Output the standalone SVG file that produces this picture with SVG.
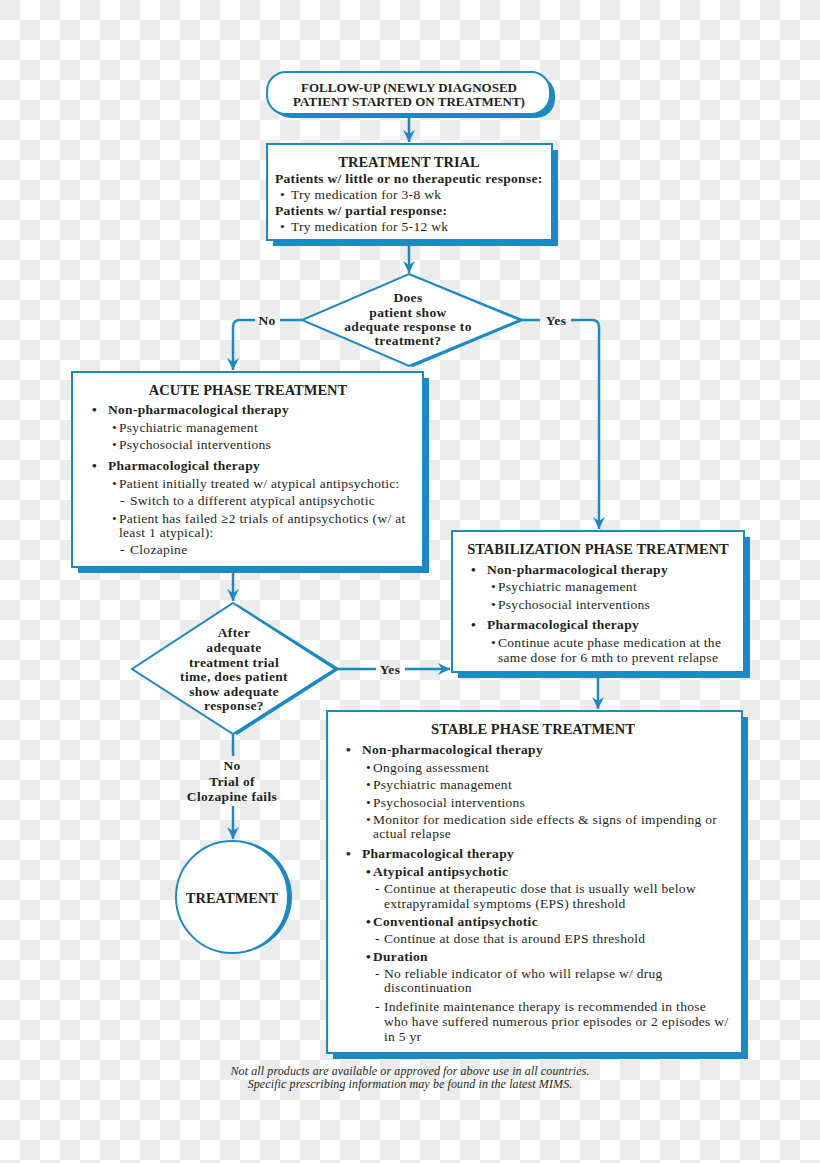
<svg xmlns="http://www.w3.org/2000/svg" width="820" height="1163" viewBox="0 0 820 1163">
<defs>
<pattern id="chk" width="40" height="40" patternUnits="userSpaceOnUse">
<rect width="40" height="40" fill="#ffffff"/>
<rect width="20" height="20" fill="#ececec"/>
<rect x="20" y="20" width="20" height="20" fill="#ececec"/>
</pattern>
<marker id="arr" markerUnits="userSpaceOnUse" markerWidth="14" markerHeight="14" refX="12" refY="7" orient="auto">
<path d="M0,1 L12,7 L0,13 L4,7 z" fill="#1b8ac4"/>
</marker>
<style>
.t{font-family:"Liberation Serif","DejaVu Serif",serif;fill:#231f20}
.h{font-size:14.5px;font-weight:bold;text-anchor:middle}
.p{font-size:13px;font-weight:bold;text-anchor:middle}
.c{font-size:13.5px;font-weight:bold;text-anchor:middle;letter-spacing:0.35px}
.b{font-size:13.5px;font-weight:bold;letter-spacing:0.3px}
.r{font-size:13.5px;letter-spacing:0.3px}
.box{fill:#ffffff;stroke:#1b8ac4;stroke-width:2}
.sh{fill:#1b8ac4}
.ln{fill:none;stroke:#1b8ac4;stroke-width:2.5}
.ft{font-family:"Liberation Serif","DejaVu Serif",serif;font-style:italic;font-size:12px;letter-spacing:0.1px;fill:#231f20;text-anchor:middle}
</style>
</defs>
<rect width="820" height="1163" fill="url(#chk)"/>

<g id="followup">
<rect class="sh" x="272" y="76" width="283" height="42" rx="19"/>
<rect class="box" x="267" y="72" width="283" height="42" rx="19"/>
<text class="t p" x="409" y="92">FOLLOW-UP (NEWLY DIAGNOSED</text>
<text class="t p" x="409" y="106">PATIENT STARTED ON TREATMENT)</text>
</g>

<g id="trial">
<rect class="sh" x="273" y="150" width="285" height="96"/>
<rect class="box" x="267" y="144" width="285" height="96"/>
<text class="t h" x="409" y="167">TREATMENT TRIAL</text>
<text class="t b" x="275" y="183">Patients w/ little or no therapeutic response:</text>
<text class="t r" x="280" y="199">•</text>
<text class="t r" x="291" y="199">Try medication for 3-8 wk</text>
<text class="t b" x="275" y="215">Patients w/ partial response:</text>
<text class="t r" x="280" y="231">•</text>
<text class="t r" x="291" y="231">Try medication for 5-12 wk</text>
</g>

<g id="decision1">
<polygon class="sh" points="413,275 525,320 413,367 305,320"/>
<polygon class="box" points="409,274 520,320 409,366 302,320"/>
<text class="t c" x="408" y="302">Does</text>
<text class="t c" x="408" y="317">patient show</text>
<text class="t c" x="408" y="331">adequate response to</text>
<text class="t c" x="408" y="345">treatment?</text>
</g>

<g id="acute">
<rect class="sh" x="78" y="378" width="351" height="195"/>
<rect class="box" x="72" y="372" width="351" height="195"/>
<text class="t h" x="248" y="395">ACUTE PHASE TREATMENT</text>
<text class="t b" x="92" y="414">•</text>
<text class="t b" x="108" y="414">Non-pharmacological therapy</text>
<text class="t r" x="112" y="432">•</text>
<text class="t r" x="119" y="432">Psychiatric management</text>
<text class="t r" x="112" y="449">•</text>
<text class="t r" x="119" y="449">Psychosocial interventions</text>
<text class="t b" x="92" y="470">•</text>
<text class="t b" x="108" y="470">Pharmacological therapy</text>
<text class="t r" x="112" y="488">•</text>
<text class="t r" x="119" y="488">Patient initially treated w/ atypical antipsychotic:</text>
<text class="t r" x="120" y="505">-</text>
<text class="t r" x="130" y="505">Switch to a different atypical antipsychotic</text>
<text class="t r" x="112" y="523">•</text>
<text class="t r" x="119" y="523">Patient has failed ≥2 trials of antipsychotics (w/ at</text>
<text class="t r" x="119" y="537">least 1 atypical):</text>
<text class="t r" x="120" y="554">-</text>
<text class="t r" x="130" y="554">Clozapine</text>
</g>

<g id="stabilization">
<rect class="sh" x="458" y="537" width="292" height="141"/>
<rect class="box" x="452" y="531" width="292" height="141"/>
<text class="t h" x="598" y="554">STABILIZATION PHASE TREATMENT</text>
<text class="t b" x="471" y="574">•</text>
<text class="t b" x="487" y="574">Non-pharmacological therapy</text>
<text class="t r" x="491" y="591">•</text>
<text class="t r" x="498" y="591">Psychiatric management</text>
<text class="t r" x="491" y="609">•</text>
<text class="t r" x="498" y="609">Psychosocial interventions</text>
<text class="t b" x="471" y="629">•</text>
<text class="t b" x="487" y="629">Pharmacological therapy</text>
<text class="t r" x="491" y="647">•</text>
<text class="t r" x="498" y="647">Continue acute phase medication at the</text>
<text class="t r" x="498" y="662">same dose for 6 mth to prevent relapse</text>
</g>

<g id="decision2">
<polygon class="sh" points="237,604 340,669 237,735 135,669"/>
<polygon class="box" points="233,603 335,669 233,734 132,669"/>
<text class="t c" x="234" y="637">After</text>
<text class="t c" x="234" y="652">adequate</text>
<text class="t c" x="234" y="667">treatment trial</text>
<text class="t c" x="234" y="681">time, does patient</text>
<text class="t c" x="234" y="696">show adequate</text>
<text class="t c" x="234" y="710">response?</text>
</g>

<g id="stable">
<rect class="sh" x="333" y="717" width="415" height="342"/>
<rect class="box" x="327" y="711" width="415" height="342"/>
<text class="t h" x="533" y="734">STABLE PHASE TREATMENT</text>
<text class="t b" x="346" y="754">•</text>
<text class="t b" x="362" y="754">Non-pharmacological therapy</text>
<text class="t r" x="366" y="772">•</text>
<text class="t r" x="373" y="772">Ongoing assessment</text>
<text class="t r" x="366" y="789">•</text>
<text class="t r" x="373" y="789">Psychiatric management</text>
<text class="t r" x="366" y="807">•</text>
<text class="t r" x="373" y="807">Psychosocial interventions</text>
<text class="t r" x="366" y="824">•</text>
<text class="t r" x="373" y="824">Monitor for medication side effects &amp; signs of impending or</text>
<text class="t r" x="373" y="838">actual relapse</text>
<text class="t b" x="346" y="858">•</text>
<text class="t b" x="362" y="858">Pharmacological therapy</text>
<text class="t b" x="366" y="876">•</text>
<text class="t b" x="373" y="876">Atypical antipsychotic</text>
<text class="t r" x="375" y="893">-</text>
<text class="t r" x="384" y="893">Continue at therapeutic dose that is usually well below</text>
<text class="t r" x="384" y="908">extrapyramidal symptoms (EPS) threshold</text>
<text class="t b" x="366" y="926">•</text>
<text class="t b" x="373" y="926">Conventional antipsychotic</text>
<text class="t r" x="375" y="943">-</text>
<text class="t r" x="384" y="943">Continue at dose that is around EPS threshold</text>
<text class="t b" x="366" y="961">•</text>
<text class="t b" x="373" y="961">Duration</text>
<text class="t r" x="375" y="978">-</text>
<text class="t r" x="384" y="978">No reliable indicator of who will relapse w/ drug</text>
<text class="t r" x="384" y="992">discontinuation</text>
<text class="t r" x="375" y="1011">-</text>
<text class="t r" x="384" y="1011">Indefinite maintenance therapy is recommended in those</text>
<text class="t r" x="384" y="1026">who have suffered numerous prior episodes or 2 episodes w/</text>
<text class="t r" x="384" y="1041">in 5 yr</text>
</g>

<g id="treatment">
<circle class="sh" cx="236" cy="897" r="56"/>
<circle cx="232" cy="897" r="56" fill="#ffffff" stroke="#1b8ac4" stroke-width="2"/>
<text class="t h" x="232" y="903">TREATMENT</text>
</g>

<g id="connectors">
<path class="ln" d="M409,114 V142" marker-end="url(#arr)"/>
<path class="ln" d="M409,246 V273" marker-end="url(#arr)"/>
<path class="ln" d="M302,320 H280"/>
<path class="ln" d="M255,320 H240 Q233,320 233,327 V370" marker-end="url(#arr)"/>
<path class="ln" d="M520,320 H540"/>
<path class="ln" d="M571,320 H592 Q599,320 599,327 V529" marker-end="url(#arr)"/>
<path class="ln" d="M335,669 H376"/>
<path class="ln" d="M405,669 H450" marker-end="url(#arr)"/>
<path class="ln" d="M233,573 V601" marker-end="url(#arr)"/>
<path class="ln" d="M233,734 V756"/>
<path class="ln" d="M233,806 V839" marker-end="url(#arr)"/>
<path class="ln" d="M598,678 V709" marker-end="url(#arr)"/>
<text class="t c" x="267" y="325">No</text>
<text class="t c" x="556" y="325">Yes</text>
<text class="t c" x="390" y="674">Yes</text>
<text class="t c" x="232" y="770">No</text>
<text class="t c" x="232" y="786">Trial of</text>
<text class="t c" x="232" y="801">Clozapine fails</text>
</g>

<g id="footnote">
<text class="ft" x="410" y="1075">Not all products are available or approved for above use in all countries.</text>
<text class="ft" x="410" y="1088">Specific prescribing information may be found in the latest MIMS.</text>
</g>
</svg>
